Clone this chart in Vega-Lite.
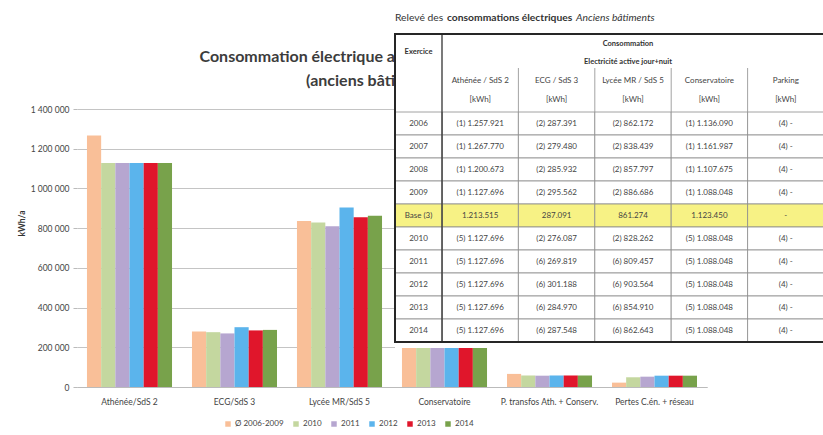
{
  "$schema": "https://vega.github.io/schema/vega-lite/v6.json",
  "autosize": {"type": "none"},
  "width": 630,
  "height": 278,
  "padding": {"left": 77, "top": 109, "right": 116, "bottom": 48},
  "background": "#ffffff",
  "config": {
    "font": "Lato",
    "view": {"stroke": null},
    "locale": {"number": {"decimal": ",", "thousands": " ", "grouping": [3], "currency": ["", " €"]}}
  },
  "datasets": {
    "bars": [
      {"cat": "Athénée/SdS 2", "yr": "Ø 2006-2009", "v": 1267000},
      {"cat": "Athénée/SdS 2", "yr": "2010", "v": 1127696},
      {"cat": "Athénée/SdS 2", "yr": "2011", "v": 1127696},
      {"cat": "Athénée/SdS 2", "yr": "2012", "v": 1127696},
      {"cat": "Athénée/SdS 2", "yr": "2013", "v": 1127696},
      {"cat": "Athénée/SdS 2", "yr": "2014", "v": 1127696},
      {"cat": "ECG/SdS 3", "yr": "Ø 2006-2009", "v": 279000},
      {"cat": "ECG/SdS 3", "yr": "2010", "v": 276087},
      {"cat": "ECG/SdS 3", "yr": "2011", "v": 269819},
      {"cat": "ECG/SdS 3", "yr": "2012", "v": 301188},
      {"cat": "ECG/SdS 3", "yr": "2013", "v": 284970},
      {"cat": "ECG/SdS 3", "yr": "2014", "v": 287548},
      {"cat": "Lycée MR/SdS 5", "yr": "Ø 2006-2009", "v": 836000},
      {"cat": "Lycée MR/SdS 5", "yr": "2010", "v": 828262},
      {"cat": "Lycée MR/SdS 5", "yr": "2011", "v": 809457},
      {"cat": "Lycée MR/SdS 5", "yr": "2012", "v": 903564},
      {"cat": "Lycée MR/SdS 5", "yr": "2013", "v": 854910},
      {"cat": "Lycée MR/SdS 5", "yr": "2014", "v": 862643},
      {"cat": "Conservatoire", "yr": "Ø 2006-2009", "v": 1123450},
      {"cat": "Conservatoire", "yr": "2010", "v": 1088048},
      {"cat": "Conservatoire", "yr": "2011", "v": 1088048},
      {"cat": "Conservatoire", "yr": "2012", "v": 1088048},
      {"cat": "Conservatoire", "yr": "2013", "v": 1088048},
      {"cat": "Conservatoire", "yr": "2014", "v": 1088048},
      {"cat": "P. transfos Ath. + Conserv.", "yr": "Ø 2006-2009", "v": 66000},
      {"cat": "P. transfos Ath. + Conserv.", "yr": "2010", "v": 58000},
      {"cat": "P. transfos Ath. + Conserv.", "yr": "2011", "v": 57000},
      {"cat": "P. transfos Ath. + Conserv.", "yr": "2012", "v": 58000},
      {"cat": "P. transfos Ath. + Conserv.", "yr": "2013", "v": 58000},
      {"cat": "P. transfos Ath. + Conserv.", "yr": "2014", "v": 58000},
      {"cat": "Pertes C.én. + réseau", "yr": "Ø 2006-2009", "v": 22000},
      {"cat": "Pertes C.én. + réseau", "yr": "2010", "v": 49000},
      {"cat": "Pertes C.én. + réseau", "yr": "2011", "v": 52000},
      {"cat": "Pertes C.én. + réseau", "yr": "2012", "v": 57000},
      {"cat": "Pertes C.én. + réseau", "yr": "2013", "v": 57000},
      {"cat": "Pertes C.én. + réseau", "yr": "2014", "v": 57000}
    ],
    "tab": [
      {"ex": "2006", "Athénée / SdS 2": "(1) 1.257.921", "ECG / SdS 3": "(2) 287.391", "Lycée MR / SdS 5": "(2) 862.172", "Conservatoire": "(1) 1.136.090", "Parking": "(4) -"},
      {"ex": "2007", "Athénée / SdS 2": "(1) 1.267.770", "ECG / SdS 3": "(2) 279.480", "Lycée MR / SdS 5": "(2) 838.439", "Conservatoire": "(1) 1.161.987", "Parking": "(4) -"},
      {"ex": "2008", "Athénée / SdS 2": "(1) 1.200.673", "ECG / SdS 3": "(2) 285.932", "Lycée MR / SdS 5": "(2) 857.797", "Conservatoire": "(1) 1.107.675", "Parking": "(4) -"},
      {"ex": "2009", "Athénée / SdS 2": "(1) 1.127.696", "ECG / SdS 3": "(2) 295.562", "Lycée MR / SdS 5": "(2) 886.686", "Conservatoire": "(1) 1.088.048", "Parking": "(4) -"},
      {"ex": "Base (3)", "Athénée / SdS 2": "1.213.515", "ECG / SdS 3": "287.091", "Lycée MR / SdS 5": "861.274", "Conservatoire": "1.123.450", "Parking": "-"},
      {"ex": "2010", "Athénée / SdS 2": "(5) 1.127.696", "ECG / SdS 3": "(2) 276.087", "Lycée MR / SdS 5": "(2) 828.262", "Conservatoire": "(5) 1.088.048", "Parking": "(4) -"},
      {"ex": "2011", "Athénée / SdS 2": "(5) 1.127.696", "ECG / SdS 3": "(6) 269.819", "Lycée MR / SdS 5": "(6) 809.457", "Conservatoire": "(5) 1.088.048", "Parking": "(4) -"},
      {"ex": "2012", "Athénée / SdS 2": "(5) 1.127.696", "ECG / SdS 3": "(6) 301.188", "Lycée MR / SdS 5": "(6) 903.564", "Conservatoire": "(5) 1.088.048", "Parking": "(4) -"},
      {"ex": "2013", "Athénée / SdS 2": "(5) 1.127.696", "ECG / SdS 3": "(6) 284.970", "Lycée MR / SdS 5": "(6) 854.910", "Conservatoire": "(5) 1.088.048", "Parking": "(4) -"},
      {"ex": "2014", "Athénée / SdS 2": "(5) 1.127.696", "ECG / SdS 3": "(6) 287.548", "Lycée MR / SdS 5": "(6) 862.643", "Conservatoire": "(5) 1.088.048", "Parking": "(4) -"}
    ],
    "cols": [
      {"col": "Athénée / SdS 2", "unit": "[kWh]"},
      {"col": "ECG / SdS 3", "unit": "[kWh]"},
      {"col": "Lycée MR / SdS 5", "unit": "[kWh]"},
      {"col": "Conservatoire", "unit": "[kWh]"},
      {"col": "Parking", "unit": "[kWh]"}
    ]
  },
  "resolve": {"scale": {"x": "independent", "y": "independent"}},
  "layer": [
    {
      "data": {"name": "bars"},
      "mark": {"type": "bar"},
      "encoding": {
        "x": {
          "field": "cat", "type": "nominal", "sort": null,
          "scale": {"domain": ["Athénée/SdS 2", "ECG/SdS 3", "Lycée MR/SdS 5", "Conservatoire", "P. transfos Ath. + Conserv.", "Pertes C.én. + réseau"], "paddingInner": 0.19, "paddingOuter": 0.095},
          "axis": {"title": null, "labelAngle": 0, "labelFontSize": 8.5, "labelColor": "#444", "ticks": false, "labelPadding": 10, "domainColor": "#BBBBBB", "labelLimit": 200, "grid": false}
        },
        "xOffset": {"field": "yr", "type": "nominal", "scale": {"domain": ["Ø 2006-2009", "2010", "2011", "2012", "2013", "2014"], "paddingInner": 0}},
        "y": {
          "field": "v", "type": "quantitative",
          "scale": {"domain": [0, 1400000], "nice": false},
          "axis": {"title": "kWh/a", "values": [0, 200000, 400000, 600000, 800000, 1000000, 1200000, 1400000], "format": ",d", "labelFontSize": 8.5, "labelColor": "#444", "gridColor": "#C4C4C4", "domain": false, "tickColor": "#BBBBBB", "tickSize": 4, "labelPadding": 4, "titleFontSize": 8.5, "titleFontWeight": "bold", "titleColor": "#333", "titleX": -51, "titleY": 114}
        },
        "color": {
          "field": "yr", "type": "nominal",
          "scale": {"domain": ["Ø 2006-2009", "2010", "2011", "2012", "2013", "2014"], "range": ["#F9BF98", "#C4D79F", "#B6A6D0", "#5BB4EC", "#E0162B", "#78A24B"]},
          "legend": {"title": null, "orient": "none", "legendX": 147, "legendY": 311, "direction": "horizontal", "symbolType": "square", "symbolSize": 30, "labelFontSize": 8, "labelColor": "#444", "columnPadding": 8, "labelOffset": 3, "symbolStrokeWidth": 0}
        }
      }
    },
    {
      "data": {"values": [{"t": "Consommation électrique a", "l": "l1"}, {"t": "(anciens bâti", "l": "l2"}]},
      "mark": {"type": "text", "fontSize": 16, "fontWeight": "bold", "color": "#3c3c3c", "align": "right"},
      "encoding": {
        "x": {"datum": 1, "type": "quantitative", "scale": {"domain": [0, 1], "range": [0, 318]}, "axis": null},
        "y": {"field": "l", "type": "nominal", "scale": {"domain": ["l1", "l2"], "range": [-64, -16], "paddingInner": 0, "paddingOuter": 0}, "axis": null},
        "text": {"field": "t"}
      }
    },
    {
      "data": {"values": [{}]},
      "mark": {"type": "rect", "fill": "#ffffff"},
      "encoding": {
        "x": {"datum": "T", "type": "nominal", "scale": {"domain": ["T"], "range": [318, 750], "paddingInner": 0, "paddingOuter": 0}, "axis": null},
        "y": {"datum": "T", "type": "nominal", "scale": {"domain": ["T"], "range": [-78, 239], "paddingInner": 0, "paddingOuter": 0}, "axis": null}
      }
    },
    {
      "data": {"name": "tab"},
      "transform": [{"fold": ["Athénée / SdS 2", "ECG / SdS 3", "Lycée MR / SdS 5", "Conservatoire", "Parking"], "as": ["col", "val"]}],
      "mark": {"type": "rect", "stroke": "#8c8c8c", "strokeWidth": 0.8},
      "encoding": {
        "x": {"field": "col", "type": "nominal", "scale": {"domain": ["Athénée / SdS 2", "ECG / SdS 3", "Lycée MR / SdS 5", "Conservatoire", "Parking"], "range": [365, 747], "paddingInner": 0, "paddingOuter": 0}, "axis": null},
        "y": {"field": "ex", "type": "nominal", "scale": {"domain": ["2006", "2007", "2008", "2009", "Base (3)", "2010", "2011", "2012", "2013", "2014"], "range": [3, 233], "paddingInner": 0, "paddingOuter": 0}, "axis": null},
        "fill": {"condition": {"test": "datum.ex === 'Base (3)'", "value": "#F7F285"}, "value": "#ffffff"}
      }
    },
    {
      "data": {"name": "tab"},
      "mark": {"type": "rect", "stroke": "#8c8c8c", "strokeWidth": 0.8},
      "encoding": {
        "x": {"datum": "Exercice", "type": "nominal", "scale": {"domain": ["Exercice"], "range": [318, 365], "paddingInner": 0, "paddingOuter": 0}, "axis": null},
        "y": {"field": "ex", "type": "nominal", "scale": {"domain": ["2006", "2007", "2008", "2009", "Base (3)", "2010", "2011", "2012", "2013", "2014"], "range": [3, 233], "paddingInner": 0, "paddingOuter": 0}, "axis": null},
        "fill": {"condition": {"test": "datum.ex === 'Base (3)'", "value": "#F7F285"}, "value": "#ffffff"}
      }
    },
    {
      "data": {"name": "tab"},
      "transform": [{"fold": ["Athénée / SdS 2", "ECG / SdS 3", "Lycée MR / SdS 5", "Conservatoire", "Parking"], "as": ["col", "val"]}],
      "mark": {"type": "text", "fontSize": 8, "color": "#444"},
      "encoding": {
        "x": {"field": "col", "type": "nominal", "scale": {"domain": ["Athénée / SdS 2", "ECG / SdS 3", "Lycée MR / SdS 5", "Conservatoire", "Parking"], "range": [365, 747], "paddingInner": 0, "paddingOuter": 0}, "axis": null},
        "y": {"field": "ex", "type": "nominal", "scale": {"domain": ["2006", "2007", "2008", "2009", "Base (3)", "2010", "2011", "2012", "2013", "2014"], "range": [3, 233], "paddingInner": 0, "paddingOuter": 0}, "axis": null},
        "text": {"field": "val"},
        "fontWeight": {"condition": {"test": "datum.ex === 'Base (3)'", "value": "bold"}, "value": "normal"}
      }
    },
    {
      "data": {"name": "tab"},
      "mark": {"type": "text", "fontSize": 8, "color": "#444"},
      "encoding": {
        "x": {"datum": "Exercice", "type": "nominal", "scale": {"domain": ["Exercice"], "range": [318, 365], "paddingInner": 0, "paddingOuter": 0}, "axis": null},
        "y": {"field": "ex", "type": "nominal", "scale": {"domain": ["2006", "2007", "2008", "2009", "Base (3)", "2010", "2011", "2012", "2013", "2014"], "range": [3, 233], "paddingInner": 0, "paddingOuter": 0}, "axis": null},
        "text": {"field": "ex"},
        "fontWeight": {"condition": {"test": "datum.ex === 'Base (3)'", "value": "bold"}, "value": "normal"}
      }
    },
    {
      "data": {"values": [{"t": "Exercice"}]},
      "mark": {"type": "text", "fontSize": 7.5, "fontWeight": "bold", "color": "#333", "dy": 8},
      "encoding": {
        "x": {"datum": "Exercice", "type": "nominal", "scale": {"domain": ["Exercice"], "range": [318, 365], "paddingInner": 0, "paddingOuter": 0}, "axis": null},
        "y": {"datum": "c1", "type": "nominal", "scale": {"domain": ["c1", "c2", "n", "k"], "range": [-74.5, 1.5], "paddingInner": 0, "paddingOuter": 0}, "axis": null},
        "text": {"field": "t"}
      }
    },
    {
      "data": {"values": [{"t": "Consommation", "r": "c1"}, {"t": "Electricité active jour+nuit", "r": "c2"}]},
      "mark": {"type": "text", "fontSize": 7.5, "fontWeight": "bold", "color": "#333"},
      "encoding": {
        "x": {"datum": "Lycée MR / SdS 5", "type": "nominal", "scale": {"domain": ["Athénée / SdS 2", "ECG / SdS 3", "Lycée MR / SdS 5", "Conservatoire", "Parking"], "range": [360, 742], "paddingInner": 0, "paddingOuter": 0}, "axis": null},
        "y": {"field": "r", "type": "nominal", "scale": {"domain": ["c1", "c2", "n", "k"], "range": [-74.5, -1.5], "paddingInner": 0, "paddingOuter": 0}, "axis": null},
        "text": {"field": "t"}
      }
    },
    {
      "data": {"name": "cols"},
      "mark": {"type": "text", "fontSize": 8, "color": "#444", "dy": -1},
      "encoding": {
        "x": {"field": "col", "type": "nominal", "scale": {"domain": ["Athénée / SdS 2", "ECG / SdS 3", "Lycée MR / SdS 5", "Conservatoire", "Parking"], "range": [365, 747], "paddingInner": 0, "paddingOuter": 0}, "axis": null},
        "y": {"datum": "n", "type": "nominal", "scale": {"domain": ["c1", "c2", "n", "k"], "range": [-74.5, 1.5], "paddingInner": 0, "paddingOuter": 0}, "axis": null},
        "text": {"field": "col"}
      }
    },
    {
      "data": {"name": "cols"},
      "mark": {"type": "text", "fontSize": 8, "color": "#444", "dy": -1},
      "encoding": {
        "x": {"field": "col", "type": "nominal", "scale": {"domain": ["Athénée / SdS 2", "ECG / SdS 3", "Lycée MR / SdS 5", "Conservatoire", "Parking"], "range": [365, 747], "paddingInner": 0, "paddingOuter": 0}, "axis": null},
        "y": {"datum": "k", "type": "nominal", "scale": {"domain": ["c1", "c2", "n", "k"], "range": [-74.5, 1.5], "paddingInner": 0, "paddingOuter": 0}, "axis": null},
        "text": {"field": "unit"}
      }
    },
    {
      "data": {"name": "cols"},
      "transform": [{"filter": "datum.col !== 'Athénée / SdS 2'"}],
      "mark": {"type": "rule", "stroke": "#8c8c8c", "strokeWidth": 0.8},
      "encoding": {
        "x": {"field": "col", "type": "nominal", "bandPosition": 0, "scale": {"domain": ["Athénée / SdS 2", "ECG / SdS 3", "Lycée MR / SdS 5", "Conservatoire", "Parking"], "range": [365, 747], "paddingInner": 0, "paddingOuter": 0}, "axis": null},
        "y": {"datum": 0, "type": "quantitative", "scale": {"domain": [0, 1], "range": [-41, 3]}, "axis": null},
        "y2": {"datum": 1}
      }
    },
    {
      "data": {"values": [{}]},
      "mark": {"type": "rule", "stroke": "#333", "strokeWidth": 1.3},
      "encoding": {
        "x": {"datum": "Athénée / SdS 2", "type": "nominal", "bandPosition": 0, "scale": {"domain": ["Athénée / SdS 2", "ECG / SdS 3", "Lycée MR / SdS 5", "Conservatoire", "Parking"], "range": [365, 747], "paddingInner": 0, "paddingOuter": 0}, "axis": null},
        "y": {"datum": 0, "type": "quantitative", "scale": {"domain": [0, 1], "range": [-75, 233]}, "axis": null},
        "y2": {"datum": 1}
      }
    },
    {
      "data": {"values": [{}]},
      "mark": {"type": "rect", "fill": "transparent", "stroke": "#262626", "strokeWidth": 2},
      "encoding": {
        "x": {"datum": "T", "type": "nominal", "scale": {"domain": ["T"], "range": [318, 750], "paddingInner": 0, "paddingOuter": 0}, "axis": null},
        "y": {"datum": "T", "type": "nominal", "scale": {"domain": ["T"], "range": [-75, 233], "paddingInner": 0, "paddingOuter": 0}, "axis": null}
      }
    },
    {
      "data": {"values": [{"t": "Relevé des"}]},
      "mark": {"type": "text", "fontSize": 10.3, "color": "#333", "align": "left"},
      "encoding": {
        "x": {"datum": 0, "type": "quantitative", "scale": {"domain": [0, 1], "range": [318, 700]}, "axis": null},
        "y": {"datum": "r", "type": "nominal", "scale": {"domain": ["r"], "range": [-100, -82], "paddingInner": 0, "paddingOuter": 0}, "axis": null},
        "text": {"field": "t"}
      }
    },
    {
      "data": {"values": [{"t": "consommations électriques"}]},
      "mark": {"type": "text", "fontSize": 10.3, "color": "#333", "align": "left", "fontWeight": "bold", "dx": 52},
      "encoding": {
        "x": {"datum": 0, "type": "quantitative", "scale": {"domain": [0, 1], "range": [318, 700]}, "axis": null},
        "y": {"datum": "r", "type": "nominal", "scale": {"domain": ["r"], "range": [-100, -82], "paddingInner": 0, "paddingOuter": 0}, "axis": null},
        "text": {"field": "t"}
      }
    },
    {
      "data": {"values": [{"t": "Anciens bâtiments"}]},
      "mark": {"type": "text", "fontSize": 10.3, "color": "#333", "align": "left", "fontStyle": "italic", "dx": 181},
      "encoding": {
        "x": {"datum": 0, "type": "quantitative", "scale": {"domain": [0, 1], "range": [318, 700]}, "axis": null},
        "y": {"datum": "r", "type": "nominal", "scale": {"domain": ["r"], "range": [-100, -82], "paddingInner": 0, "paddingOuter": 0}, "axis": null},
        "text": {"field": "t"}
      }
    }
  ]
}
